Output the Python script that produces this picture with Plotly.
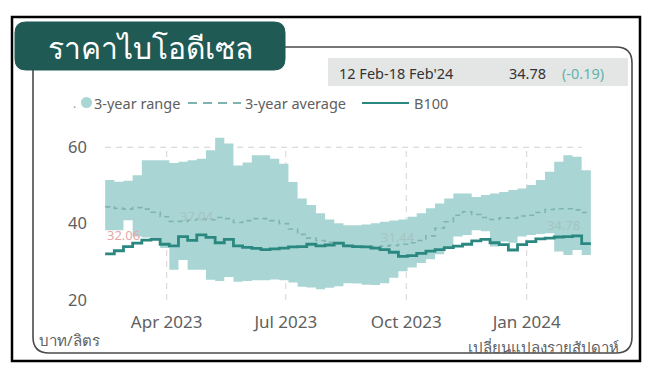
import pandas as pd
import plotly.graph_objects as go

# ---------------- data ----------------
week_start = pd.date_range("2023-02-13", periods=53, freq="7D")
last_week_end = pd.Timestamp("2024-02-19")

range_upper = [51.4, 51.0, 51.2, 52.7, 56.6, 56.6, 56.6, 55.9, 56.2, 56.6, 57.0, 59.2, 62.5,
               61.0, 55.2, 56.0, 57.9, 57.9, 57.0, 55.7, 50.9, 46.6, 44.9, 42.7, 41.1, 40.1,
               39.6, 39.6, 39.8, 40.1, 40.5, 40.8, 41.1, 41.8, 42.7, 44.0, 45.3, 46.6, 47.9,
               47.9, 47.0, 47.5, 47.9, 48.3, 48.8, 49.2, 50.1, 51.4, 53.6, 56.2, 57.9, 57.5, 54.0]
range_lower = [38.3, 38.3, 40.9, 36.6, 36.4, 35.8, 33.6, 27.9, 30.5, 27.9, 27.9, 25.3, 25.0,
               26.0, 24.8, 25.0, 25.2, 25.2, 25.4, 25.2, 24.6, 23.5, 23.3, 22.8, 23.2, 23.6,
               24.4, 24.3, 24.0, 23.9, 24.4, 25.8, 27.5, 28.5, 29.7, 30.7, 32.0, 33.5, 36.6,
               37.0, 38.3, 38.0, 34.0, 35.3, 35.0, 36.6, 37.0, 37.3, 37.5, 32.7, 31.8, 33.1, 31.8]
avg_3y = [44.4, 44.0, 43.8, 44.2, 43.8, 43.0, 41.8, 40.6, 40.6, 40.9, 41.2, 41.0, 41.6,
          41.3, 40.3, 40.8, 41.3, 41.3, 40.8, 40.0, 38.6, 37.2, 36.2, 35.6, 35.1, 34.7,
          34.3, 34.1, 34.0, 34.0, 34.1, 34.3, 34.6, 35.0, 35.6, 36.8, 38.8, 40.5, 42.2,
          43.1, 42.4, 41.6, 41.1, 41.5, 41.4, 42.0, 42.2, 42.9, 43.7, 43.9, 43.9, 43.6, 42.9]
b100 = [32.06, 32.9, 34.0, 34.9, 35.7, 35.9, 34.6, 34.2, 36.6, 35.6, 37.04, 36.4, 35.0,
        35.9, 34.2, 33.8, 33.5, 33.2, 33.4, 33.6, 33.9, 34.0, 34.6, 34.2, 34.4, 34.9,
        34.2, 34.0, 33.9, 33.6, 33.2, 32.5, 31.44, 31.6, 32.2, 32.8, 33.2, 33.7, 34.1,
        34.6, 35.5, 35.9, 35.0, 34.5, 33.1, 34.5, 35.3, 36.0, 36.2, 36.5, 36.6, 36.8, 34.78]

y_ticks = [20, 40, 60]
y_grid = [60]
x_grid = ["2023-04-01", "2023-07-01", "2023-10-01", "2024-01-01"]

title_text = "ราคาไบโอดีเซล"
header_period = "12 Feb-18 Feb'24"
header_value = "34.78"
header_change = "(-0.19)"
unit_text = "บาท/ลิตร"
freq_text = "เปลี่ยนแปลงรายสัปดาห์"

# ---------------- styles ----------------
BAND = "#a9d6d4"
AVG = "#7fb3b0"
LINE = "#2a8880"
DARK = "#1f5a55"
TXT = "#606060"
FONT = "Noto Sans, Open Sans, DejaVu Sans, sans-serif"

# page has an 8px body margin; figure is sized to fit the window after it
PAGE_OFF = 8
FIG_W, FIG_H = 650 - PAGE_OFF, 375 - PAGE_OFF

# plot-area geometry in reference-window pixels
L, W, T, H = 96, 504, 132, 168
BOT = T + H


def P(x, y):
    return (x - L) / W, (BOT - y) / H


def rrect(x0, y0, x1, y1, r):
    def p(x, y):
        a, b = P(x, y)
        return f"{a:.5f},{b:.5f}"
    s = f"M {p(x0 + r, y0)} L {p(x1 - r, y0)} Q {p(x1, y0)} {p(x1, y0 + r)} "
    s += f"L {p(x1, y1 - r)} Q {p(x1, y1)} {p(x1 - r, y1)} "
    s += f"L {p(x0 + r, y1)} Q {p(x0, y1)} {p(x0, y1 - r)} "
    s += f"L {p(x0, y0 + r)} Q {p(x0, y0)} {p(x0 + r, y0)} Z"
    return s


xs = list(week_start) + [last_week_end]


def ext(v):
    return list(v) + [v[-1]]


fig = go.Figure()
fig.add_trace(go.Scatter(x=xs, y=ext(range_lower), mode="lines", line=dict(width=0, shape="hv"),
                         hoverinfo="skip", showlegend=False))
fig.add_trace(go.Scatter(x=xs, y=ext(range_upper), mode="lines", line=dict(width=0, shape="hv"),
                         fill="tonexty", fillcolor=BAND, name="3-year range", showlegend=False))
fig.add_trace(go.Scatter(x=xs, y=ext(avg_3y), mode="lines",
                         line=dict(color=AVG, width=1.6, dash="5px,4px", shape="hv"),
                         name="3-year average", showlegend=False))
fig.add_trace(go.Scatter(x=xs, y=ext(b100), mode="lines",
                         line=dict(color=LINE, width=2.8, shape="hv"),
                         name="B100", showlegend=False))

shapes = []
for g in y_grid:
    shapes.append(dict(type="line", xref="x", yref="y", x0=week_start[0], x1=week_start[-1],
                       y0=g, y1=g,
                       line=dict(color="#d0d0d0", width=1, dash="6px,5px"), layer="below"))
for g in x_grid:
    shapes.append(dict(type="line", xref="x", yref="y", x0=g, x1=g, y0=y_ticks[0], y1=y_ticks[-1],
                       line=dict(color="#d4d4d4", width=1, dash="6px,5px"), layer="below"))

a0, b0 = P(12, 17)
a1, b1 = P(640, 361)
shapes.append(dict(type="rect", xref="paper", yref="paper", x0=a0, y0=b0, x1=a1, y1=b1,
                   line=dict(color="#000000", width=2.5), fillcolor="rgba(0,0,0,0)"))
shapes.append(dict(type="path", xref="paper", yref="paper", path=rrect(33, 47, 632, 353, 16),
                   line=dict(color="#4a4a4a", width=1.6), fillcolor="rgba(0,0,0,0)"))
shapes.append(dict(type="path", xref="paper", yref="paper", path=rrect(15, 22, 285, 70, 11),
                   line=dict(color=DARK, width=1), fillcolor=DARK))
a0, b0 = P(328, 58)
a1, b1 = P(628, 86)
shapes.append(dict(type="rect", xref="paper", yref="paper", x0=a0, y0=b0, x1=a1, y1=b1,
                   line=dict(width=0), fillcolor="#e4e6e6", layer="below"))

a0, b0 = P(81, 97)
a1, b1 = P(92, 108)
shapes.append(dict(type="circle", xref="paper", yref="paper", x0=a0, y0=b0, x1=a1, y1=b1,
                   line=dict(width=0), fillcolor=BAND))
a0, b0 = P(188, 103)
a1, _ = P(241, 103)
shapes.append(dict(type="line", xref="paper", yref="paper", x0=a0, y0=b0, x1=a1, y1=b0,
                   line=dict(color=AVG, width=2, dash="9px,6px")))
a0, b0 = P(362, 103)
a1, _ = P(409, 103)
shapes.append(dict(type="line", xref="paper", yref="paper", x0=a0, y0=b0, x1=a1, y1=b0,
                   line=dict(color=LINE, width=2.2)))

ann = []


def text(x, y, s, size, color, xanchor="left", yanchor="middle"):
    a, b = P(x, y)
    ann.append(dict(x=a, y=b, xref="paper", yref="paper", text=s, showarrow=False,
                    xanchor=xanchor, yanchor=yanchor,
                    font=dict(size=size, color=color, family=FONT)))


text(150, 47, title_text, 30, "#ffffff", xanchor="center")
text(337, 73, header_period, 14.5, "#333333")
text(548, 73, header_value, 14.5, "#333333", xanchor="right")
text(560, 73, header_change, 14.5, "#5fb3ad")
text(74, 104, ".", 12, "#999999", xanchor="center")
text(92, 103, "3-year range", 14.5, TXT)
text(243, 103, "3-year average", 14.5, TXT)
text(412, 103, "B100", 14.5, TXT)
text(37, 340, unit_text, 15, TXT)
text(621, 347, freq_text, 15, TXT, xanchor="right")

i_max = b100.index(max(b100))
i_min = b100.index(min(b100))
last = len(b100) - 1
label_specs = [(i_max, "#a5c3c1", "center", week_start[i_max]),
               (i_min, "#a5c3c1", "center", week_start[i_min]),
               (last, "#a5c3c1", "right", week_start[last]),
               (0, "#e8a8a8", "left", week_start[0])]
for i, col, xa, xpos in label_specs:
    ann.append(dict(x=xpos, y=b100[i], xref="x", yref="y", text=f"{b100[i]:.2f}", showarrow=False,
                    xanchor=xa, yanchor="bottom", yshift=8,
                    font=dict(size=13, color=col, family=FONT)))

fig.update_layout(
    width=FIG_W, height=FIG_H,
    margin=dict(l=L - PAGE_OFF, r=FIG_W - (L - PAGE_OFF) - W, t=T - PAGE_OFF,
                b=FIG_H - (T - PAGE_OFF) - H),
    paper_bgcolor="#ffffff", plot_bgcolor="#ffffff",
    shapes=shapes, annotations=ann, showlegend=False,
    font=dict(family=FONT, color=TXT),
)
fig.update_xaxes(range=["2023-02-06", "2024-02-26"], tick0="2023-01-01", dtick="M3",
                 tickformat="%b %Y", showgrid=False, zeroline=False, showline=False,
                 ticks="", tickfont=dict(size=17, color=TXT, family=FONT), ticklabelstandoff=10)
fig.update_yaxes(range=[20, 64], tickvals=y_ticks, showgrid=False, zeroline=False, showline=False,
                 ticks="", tickfont=dict(size=16.5, color=TXT, family=FONT), ticklabelstandoff=8)

fig.write_html("out.html")
